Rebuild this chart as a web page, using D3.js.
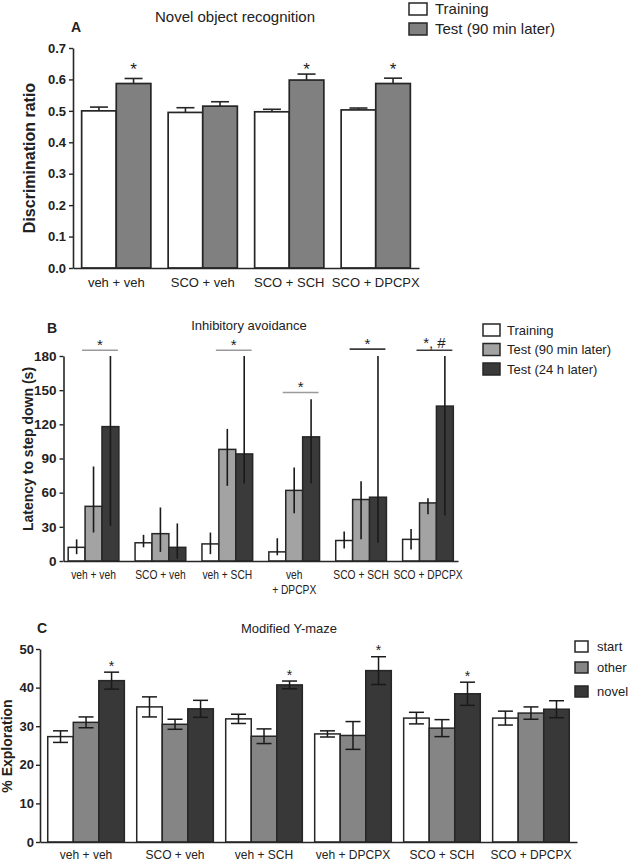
<!DOCTYPE html>
<html><head><meta charset="utf-8">
<script src="https://cdn.jsdelivr.net/npm/d3@7"></script>
<style>
body{margin:0;background:#fff;}
svg{display:block;font-family:"Liberation Sans",Arial,Helvetica,sans-serif;}
</style></head>
<body>
<svg id="chart" width="629" height="862"></svg>
<script>
// ---------- Panel A: Novel object recognition ----------
const groupsA = ["veh + veh", "SCO + veh", "SCO + SCH", "SCO + DPCPX"];
const trainingA = [0.500, 0.495, 0.497, 0.503];
const trainingAErr = [0.012, 0.015, 0.008, 0.006];
const testA = [0.587, 0.515, 0.598, 0.587];
const testAErr = [0.016, 0.014, 0.019, 0.017];
const sigA = ["*", "", "*", "*"];
const ticksA = [0, 0.1, 0.2, 0.3, 0.4, 0.5, 0.6, 0.7];
const seriesA = ["Training", "Test (90 min later)"];

// ---------- Panel B: Inhibitory avoidance (median, low, high) ----------
const groupsB = ["veh + veh", "SCO + veh", "veh + SCH", "veh\n+ DPCPX", "SCO + SCH", "SCO + DPCPX"];
const trainingB = [12, 16, 15, 8, 18, 19];
const trainingBLow = [6, 12, 6, 5, 11, 10];
const trainingBHigh = [19, 23, 25, 20, 26, 28];
const test90B = [48, 24, 98, 62, 54, 51];
const test90BLow = [25, 8, 66, 42, 19, 41];
const test90BHigh = [83, 47, 116, 82, 70, 55];
const test24B = [118, 12, 94, 109, 56, 136];
const test24BLow = [31, 2, 68, 68, 16, 40];
const test24BHigh = [180, 33, 180, 142, 180, 180];
const sigB = ["*", "", "*", "*", "*", "*, #"];
const sigBLevel = [185, null, 185, 148, 186, 185];
const ticksB = [0, 30, 60, 90, 120, 150, 180];
const seriesB = ["Training", "Test (90 min later)", "Test (24 h later)"];

// ---------- Panel C: Modified Y-maze ----------
const groupsC = ["veh + veh", "SCO + veh", "veh + SCH", "veh + DPCPX", "SCO + SCH", "SCO + DPCPX"];
const startC = [27.3, 35.0, 31.9, 28.0, 32.1, 32.1];
const startCErr = [1.5, 2.6, 1.2, 0.8, 1.5, 1.8];
const otherC = [31.0, 30.5, 27.4, 27.6, 29.5, 33.4];
const otherCErr = [1.4, 1.3, 1.9, 3.6, 2.2, 1.6];
const novelC = [41.8, 34.5, 40.7, 44.4, 38.4, 34.4];
const novelCErr = [2.2, 2.2, 1.0, 3.6, 3.0, 2.2];
const sigC = ["*", "", "*", "*", "*", ""];
const ticksC = [0, 10, 20, 30, 40, 50];
const seriesC = ["start", "other", "novel"];

const svg = d3.select("#chart");
const INK = "#262626";

function yAxis(g, y, ticks, fmt, fs, pad) {
  g.call(d3.axisLeft(y).tickValues(ticks).tickFormat(fmt).tickSize(4).tickSizeOuter(0).tickPadding(pad));
  g.select(".domain").attr("stroke", INK).attr("stroke-width", 1.6);
  g.selectAll(".tick line").attr("stroke", INK).attr("stroke-width", 1.4);
  g.selectAll(".tick text").attr("font-size", fs).attr("font-weight", "bold").attr("fill", "#222")
    .attr("font-family", "Liberation Sans, Arial, sans-serif");
}
function xAxis(g, x, fs, pad, sx) {
  g.call(d3.axisBottom(x).tickSize(0).tickSizeOuter(0).tickPadding(pad));
  g.select(".domain").attr("stroke", INK).attr("stroke-width", 1.6);
  g.selectAll(".tick text").attr("font-size", fs).attr("fill", "#222")
    .attr("transform", sx ? `scale(${sx},1)` : null)
    .attr("font-family", "Liberation Sans, Arial, sans-serif")
    .each(function(d) {
      const parts = d.split("\n");
      if (parts.length > 1) {
        const t = d3.select(this); t.text(null);
        parts.forEach((p, i) => t.append("tspan").attr("x", 0).attr("dy", i === 0 ? "0.71em" : "1.2em").text(p));
      }
    });
}
function star(g, x, yc, txt, fs) {
  g.append("text").attr("x", x).attr("y", yc + fs * 0.58).attr("text-anchor", "middle")
    .attr("font-size", fs).attr("fill", "#222").text(txt);
}
function yLabel(g, x, yc, txt, fs) {
  g.append("text").attr("transform", `translate(${x},${yc}) rotate(-90)`).attr("text-anchor", "middle")
    .attr("font-size", fs).attr("font-weight", "bold").attr("fill", "#222").text(txt);
}
function legend(g, x, tx, ys, names, fills, bw, bh, fs) {
  names.forEach((n, i) => {
    g.append("rect").attr("x", x).attr("y", ys[i] - bh / 2).attr("width", bw).attr("height", bh)
      .attr("fill", fills[i]).attr("stroke", INK).attr("stroke-width", 1.5);
    g.append("text").attr("x", tx).attr("y", ys[i]).attr("dy", "0.35em").attr("font-size", fs).attr("fill", "#222").text(n);
  });
}

// ================= Panel A =================
{
  const g = svg.append("g");
  const x0 = d3.scaleBand().domain(groupsA).range([73, 419]).paddingInner(0.2).paddingOuter(0.1);
  const x1 = d3.scaleBand().domain(seriesA).range([0, x0.bandwidth()]);
  const y = d3.scaleLinear().domain([0, 0.7]).range([268, 48]);
  const fills = ["#ffffff", "#808080"];
  const vals = [trainingA, testA], errs = [trainingAErr, testAErr];
  seriesA.forEach((s, si) => {
    groupsA.forEach((grp, gi) => {
      const bx = x0(grp) + x1(s), v = vals[si][gi], e = errs[si][gi];
      g.append("rect").attr("x", bx).attr("y", y(v)).attr("width", x1.bandwidth()).attr("height", y(0) - y(v))
        .attr("fill", fills[si]).attr("stroke", INK).attr("stroke-width", 1.7);
      const cx = bx + x1.bandwidth() / 2;
      g.append("line").attr("x1", cx).attr("x2", cx).attr("y1", y(v)).attr("y2", y(v + e)).attr("stroke", INK).attr("stroke-width", 1.6);
      g.append("line").attr("x1", cx - 9).attr("x2", cx + 9).attr("y1", y(v + e)).attr("y2", y(v + e)).attr("stroke", INK).attr("stroke-width", 1.6);
    });
  });
  groupsA.forEach((grp, gi) => {
    if (sigA[gi]) star(g, x0(grp) + x1(seriesA[1]) + x1.bandwidth() / 2, y(0.645), sigA[gi], 17);
  });
  yAxis(g.append("g").attr("transform", "translate(73,0)"), y, ticksA, d3.format(".1f"), 13, 3);
  xAxis(g.append("g").attr("transform", "translate(0,268)"), x0, 13, 9.5);
  yLabel(g, 35, 158, "Discrimination ratio", 16);
  g.append("text").attr("x", 235).attr("y", 22).attr("text-anchor", "middle").attr("font-size", 15).attr("fill", "#222").text("Novel object recognition");
  g.append("text").attr("x", 76).attr("y", 32).attr("text-anchor", "middle").attr("font-size", 14).attr("font-weight", "bold").attr("fill", "#222").text("A");
  legend(g, 409, 435, [9, 29], seriesA, fills, 18, 12, 15);
}

// ================= Panel B =================
{
  const g = svg.append("g");
  const x0 = d3.scaleBand().domain(groupsB).range([63.5, 458]).paddingInner(0.242).paddingOuter(0.07);
  const x1 = d3.scaleBand().domain(seriesB).range([0, x0.bandwidth()]);
  const y = d3.scaleLinear().domain([0, 180]).range([561, 356]);
  const fills = ["#ffffff", "#a3a3a3", "#3a3a3a"];
  const vals = [trainingB, test90B, test24B];
  const lows = [trainingBLow, test90BLow, test24BLow];
  const highs = [trainingBHigh, test90BHigh, test24BHigh];
  seriesB.forEach((s, si) => {
    groupsB.forEach((grp, gi) => {
      const bx = x0(grp) + x1(s), v = vals[si][gi];
      g.append("rect").attr("x", bx).attr("y", y(v)).attr("width", x1.bandwidth()).attr("height", y(0) - y(v))
        .attr("fill", fills[si]).attr("stroke", INK).attr("stroke-width", 1.5);
    });
  });
  seriesB.forEach((s, si) => {
    groupsB.forEach((grp, gi) => {
      const cx = x0(grp) + x1(s) + x1.bandwidth() / 2;
      g.append("line").attr("x1", cx).attr("x2", cx).attr("y1", y(lows[si][gi])).attr("y2", y(highs[si][gi]))
        .attr("stroke", "#1a1a1a").attr("stroke-width", 1.6);
    });
  });
  groupsB.forEach((grp, gi) => {
    if (!sigB[gi]) return;
    const xa = x0(grp) + x1(seriesB[1]) - 3, xb = x0(grp) + x1(seriesB[2]) + x1.bandwidth() - 1;
    const ly = y(sigBLevel[gi]);
    g.append("line").attr("x1", xa).attr("x2", xb).attr("y1", ly).attr("y2", ly)
      .attr("stroke", gi < 4 ? "#9a9a9a" : "#3a3a3a").attr("stroke-width", 1.6);
    star(g, (xa + xb) / 2, ly - (sigB[gi].length > 1 ? 11 : 9), sigB[gi], 15);
  });
  yAxis(g.append("g").attr("transform", "translate(63.5,0)"), y, ticksB, d3.format("d"), 13.5, 3);
  xAxis(g.append("g").attr("transform", "translate(0,561)"), x0, 12.5, 9.5, 0.82);
  yLabel(g, 33, 449, "Latency to step down (s)", 14);
  g.append("text").attr("x", 249).attr("y", 330).attr("text-anchor", "middle").attr("font-size", 13).attr("fill", "#222").text("Inhibitory avoidance");
  g.append("text").attr("x", 52).attr("y", 333).attr("text-anchor", "middle").attr("font-size", 14).attr("font-weight", "bold").attr("fill", "#222").text("B");
  legend(g, 483, 507, [330, 349.5, 369], seriesB, fills, 17, 12, 13);
}

// ================= Panel C =================
{
  const g = svg.append("g");
  const x0 = d3.scaleBand().domain(groupsC).range([40, 577]).paddingInner(0.139).paddingOuter(0.087);
  const x1 = d3.scaleBand().domain(seriesC).range([0, x0.bandwidth()]);
  const y = d3.scaleLinear().domain([0, 50]).range([842, 649]);
  const fills = ["#ffffff", "#858585", "#383838"];
  const vals = [startC, otherC, novelC], errs = [startCErr, otherCErr, novelCErr];
  seriesC.forEach((s, si) => {
    groupsC.forEach((grp, gi) => {
      const bx = x0(grp) + x1(s), v = vals[si][gi];
      g.append("rect").attr("x", bx).attr("y", y(v)).attr("width", x1.bandwidth()).attr("height", y(0) - y(v))
        .attr("fill", fills[si]).attr("stroke", INK).attr("stroke-width", 1.5);
    });
  });
  seriesC.forEach((s, si) => {
    groupsC.forEach((grp, gi) => {
      const cx = x0(grp) + x1(s) + x1.bandwidth() / 2, v = vals[si][gi], e = errs[si][gi];
      g.append("line").attr("x1", cx).attr("x2", cx).attr("y1", y(v - e)).attr("y2", y(v + e)).attr("stroke", "#1a1a1a").attr("stroke-width", 1.5);
      [v - e, v + e].forEach(c => g.append("line").attr("x1", cx - 7.5).attr("x2", cx + 7.5).attr("y1", y(c)).attr("y2", y(c))
        .attr("stroke", "#1a1a1a").attr("stroke-width", 1.5));
    });
  });
  groupsC.forEach((grp, gi) => {
    if (!sigC[gi]) return;
    const cx = x0(grp) + x1(seriesC[2]) + x1.bandwidth() / 2;
    star(g, cx, y(novelC[gi] + novelCErr[gi]) - 9.5, sigC[gi], 14);
  });
  yAxis(g.append("g").attr("transform", "translate(40,0)"), y, ticksC, d3.format("d"), 13, 2);
  xAxis(g.append("g").attr("transform", "translate(0,842)"), x0, 12, 8.5);
  yLabel(g, 12, 746, "% Exploration", 14);
  g.append("text").attr("x", 289).attr("y", 633).attr("text-anchor", "middle").attr("font-size", 13).attr("fill", "#222").text("Modified Y-maze");
  g.append("text").attr("x", 42).attr("y", 633).attr("text-anchor", "middle").attr("font-size", 14).attr("font-weight", "bold").attr("fill", "#222").text("C");
  legend(g, 575, 597, [646.5, 667.5, 691.5], seriesC, fills, 13, 11, 13);
}
</script>
</body></html>
